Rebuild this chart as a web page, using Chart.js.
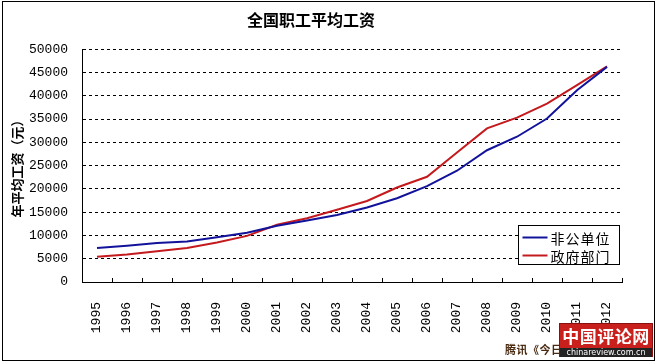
<!DOCTYPE html>
<html>
<head>
<meta charset="utf-8">
<script src="https://cdn.jsdelivr.net/npm/chart.js@4/dist/chart.umd.min.js"></script>
<style>
  body { margin: 0; background: #fff; }
  #wrap { position: relative; width: 657px; height: 363px; }
  #frame { position: absolute; left: 2px; top: 1px; width: 651px; height: 358px; border: 1px solid #000; pointer-events: none; }
  canvas { position: absolute; left: 0; top: 0; }
  #src { position: absolute; left: 505px; top: 341px; font: bold 11px "Noto Sans CJK SC"; color: #4a2a10; letter-spacing: 0.5px; white-space: nowrap; }
  #logo { position: absolute; left: 559px; top: 323px; width: 94px; height: 34px; background: #c8201c; border: 1px solid #8a1010; box-sizing: border-box; }
  #logo .cn { position: absolute; left: 0; top: 1px; width: 92px; text-align: center; font: bold 17px "Noto Sans CJK SC"; color: #fff; line-height: 22px; letter-spacing: 0.5px; }
  #logo .en { position: absolute; left: 0; top: 24px; width: 92px; height: 9px; background: #222; text-align: center; font: 8px "DejaVu Sans"; color: #fff; line-height: 9px; }
</style>
</head>
<body>
<div id="wrap">
  <canvas id="chartWage" width="657" height="363"></canvas>
  <div id="frame"></div>
  <div id="src">腾讯《今日话题》</div>
  <div id="logo"><div class="cn">中国评论网</div><div class="en">chinareview.com.cn</div></div>
</div>
<script>
  // ************************************
  // DATA
  // ************************************
  const years = ['1995', '1996', '1997', '1998', '1999', '2000', '2001', '2002', '2003',
                 '2004', '2005', '2006', '2007', '2008', '2009', '2010', '2011', '2012'];
  const feigong = [7300, 7800, 8400, 8700, 9600, 10600, 12100, 13200, 14400,
                   16000, 18000, 20600, 23900, 28300, 31200, 35100, 41200, 46200];
  const zhengfu = [5400, 5900, 6600, 7300, 8500, 9900, 12300, 13700, 15500,
                   17400, 20300, 22600, 27800, 33000, 35300, 38300, 42300, 46300];
  const seriesNames = ['非公单位', '政府部门'];
  const yTicks = {min: 0, max: 50000, step: 5000};

  const COLORS = {
    feigong: '#12129a',
    zhengfu: '#c41a1e',
  };

  // x ticks pointing into the plot, at category boundaries
  const innerTicks = {
    id: 'innerTicks',
    afterDraw(chart) {
      const x = chart.scales.x, area = chart.chartArea, ctx = chart.ctx;
      const half = (x.getPixelForValue(1) - x.getPixelForValue(0)) / 2;
      ctx.save();
      ctx.strokeStyle = '#000';
      ctx.lineWidth = 1;
      ctx.beginPath();
      for (let i = 0; i <= years.length; i++) {
        const px = Math.round(x.getPixelForValue(i) - half) + 0.5;
        ctx.moveTo(px, area.bottom);
        ctx.lineTo(px, area.bottom - 4);
      }
      ctx.stroke();
      ctx.restore();
    }
  };

  // boxed legend in the lower right of the plot
  const boxLegend = {
    id: 'boxLegend',
    afterDraw(chart) {
      const area = chart.chartArea, ctx = chart.ctx;
      const w = 101, h = 39;
      const left = Math.round(area.right - 3 - w) + 0.5;
      const top = Math.round(area.bottom - 18 - h) + 0.5;
      ctx.save();
      ctx.fillStyle = '#fff';
      ctx.fillRect(left, top, w, h);
      ctx.strokeStyle = '#000';
      ctx.lineWidth = 1;
      ctx.strokeRect(left, top, w, h);
      ctx.font = '14px "Noto Sans CJK SC"';
      ctx.letterSpacing = '1px';
      ctx.textBaseline = 'middle';
      chart.data.datasets.forEach((ds, i) => {
        const y = top + 12 + i * 18;
        ctx.strokeStyle = ds.borderColor;
        ctx.lineWidth = 2;
        ctx.beginPath();
        ctx.moveTo(left + 4, y);
        ctx.lineTo(left + 29, y);
        ctx.stroke();
        ctx.fillStyle = '#000';
        ctx.fillText(ds.label, left + 32, y + 1);
      });
      ctx.restore();
    }
  };

  new Chart(document.getElementById('chartWage'), {
    type: 'line',
    data: {
      labels: years,
      datasets: [
        {
          label: seriesNames[0],
          data: feigong,
          borderColor: COLORS.feigong,
          backgroundColor: COLORS.feigong,
          borderWidth: 2,
          pointRadius: 0,
          tension: 0,
        },
        {
          label: seriesNames[1],
          data: zhengfu,
          borderColor: COLORS.zhengfu,
          backgroundColor: COLORS.zhengfu,
          borderWidth: 2,
          pointRadius: 0,
          tension: 0,
        }
      ]
    },
    options: {
      responsive: false,
      animation: false,
      layout: { padding: { top: 0, right: 35, bottom: 0, left: 0 } },
      plugins: {
        legend: { display: false },
        tooltip: { enabled: false },
        title: {
          display: true,
          text: '全国职工平均工资',
          color: '#000',
          font: { family: '"Noto Sans CJK SC"', size: 16, weight: 'bold' },
          padding: { top: 10, bottom: 20 },
        }
      },
      scales: {
        x: {
          offset: true,
          grid: { display: false },
          border: { display: true, color: '#000', width: 1 },
          ticks: {
            color: '#000',
            font: { family: '"Liberation Mono"', size: 13 },
            minRotation: 90,
            maxRotation: 90,
            padding: 12,
            autoSkip: false,
          },
          afterFit(scale) { scale.height = 81; },
        },
        y: {
          min: yTicks.min,
          max: yTicks.max,
          grid: { color: '#000', drawTicks: false },
          border: { display: true, color: '#000', width: 1, dash: [3, 3] },
          ticks: {
            stepSize: yTicks.step,
            color: '#000',
            font: { family: '"Liberation Mono"', size: 13 },
            padding: 14,
            callback: v => String(v),
          },
          title: {
            display: true,
            text: '年平均工资（元）',
            color: '#000',
            font: { family: '"Noto Sans CJK SC"', size: 13, weight: 'bold' },
            padding: { top: 9, bottom: 0 },
          },
          afterFit(scale) { scale.width = 82; },
        }
      }
    },
    plugins: [innerTicks, boxLegend]
  });
</script>
</body>
</html>
